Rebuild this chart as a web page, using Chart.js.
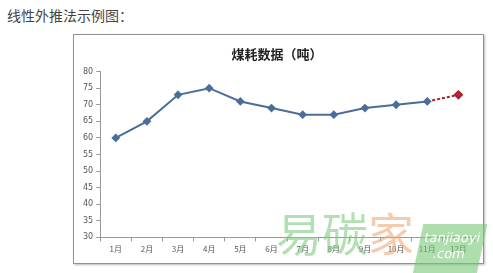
<!DOCTYPE html>
<html>
<head>
<meta charset="utf-8">
<script src="https://cdn.jsdelivr.net/npm/chart.js@4.4.1/dist/chart.umd.min.js"></script>
<style>
  body { margin: 0; background: #fff; width: 493px; height: 273px; overflow: hidden; position: relative; font-family: "Noto Sans CJK SC", sans-serif; }
  #caption { position: absolute; left: 7px; top: 5px; font-size: 14px; color: #444; }
  #box { position: absolute; left: 73px; top: 34px; width: 409px; height: 228px; border: 1px solid #8c9298; box-shadow: 1px 1px 2px #bbb; background: #fff; }
  #wm { position: absolute; left: 276px; top: 208px; font-size: 46px; line-height: 1; opacity: 0.6; }
  #wm .g { color: #7fcc7f; }
  #wm .o { color: #f0a878; }
  #wmbox { position: absolute; left: 418px; top: 224px; width: 64px; height: 50px; background: rgba(120, 200, 120, 0.6); transform: skewX(-12deg); color: #fff; font-family: "DejaVu Sans", sans-serif; font-size: 13px; line-height: 16px; text-align: center; padding-top: 6px; box-sizing: border-box; }
</style>
</head>
<body>
<div id="caption">线性外推法示例图：</div>
<div id="box"><canvas id="chart" width="409" height="228"></canvas></div>
<div id="wm"><span class="g">易碳</span><span class="o">家</span></div>
<div id="wmbox">tanjiaoyi<br>.com</div>
<script>
// 煤耗数据（吨）
const months = ['1月', '2月', '3月', '4月', '5月', '6月', '7月', '8月', '9月', '10月', '11月', '12月'];
const actualValues = [60, 65, 73, 75, 71, 69, 67, 67, 69, 70, 71, null];
const forecastValues = [null, null, null, null, null, null, null, null, null, null, 71, 73];
const yTicks = [30, 35, 40, 45, 50, 55, 60, 65, 70, 75, 80];

const ctx = document.getElementById('chart').getContext('2d');

new Chart(ctx, {
    type: 'line',
    data: {
        labels: months,
        datasets: [{
            label: '实际',
            data: actualValues,
            borderColor: '#4a6e9a',
            backgroundColor: '#4a6e9a',
            borderWidth: 2,
            pointStyle: 'rectRot',
            pointRadius: 3,
            tension: 0,
            order: 1
        }, {
            label: '外推',
            data: forecastValues,
            borderColor: '#a8202e',
            backgroundColor: '#c8283a',
            borderWidth: 2,
            borderDash: [3, 2],
            pointStyle: 'rectRot',
            pointRadius: forecastValues.map((v, i) => i === months.length - 1 ? 3.5 : 0),
            tension: 0,
            order: 2
        }]
    },
    options: {
        responsive: false,
        animation: false,
        layout: { padding: { left: 6, right: 9, top: 0, bottom: 6 } },
        plugins: {
            legend: { display: false },
            tooltip: { enabled: false },
            title: {
                display: true,
                text: '煤耗数据（吨）',
                color: '#222',
                font: { family: 'Noto Sans CJK SC', size: 13, weight: 'bold' },
                padding: { top: 11, bottom: 10 }
            }
        },
        scales: {
            x: {
                offset: true,
                grid: { drawOnChartArea: false, drawTicks: true, tickLength: 4, color: '#999', offset: true },
                border: { color: '#999' },
                ticks: { color: '#555', font: { family: 'Noto Sans CJK SC', size: 8 }, maxRotation: 0, autoSkip: false, padding: 3 }
            },
            y: {
                min: 30,
                max: 80,
                afterBuildTicks: axis => { axis.ticks = yTicks.map(v => ({ value: v })); },
                grid: { drawOnChartArea: false, drawTicks: true, tickLength: 4, color: '#999' },
                border: { color: '#999' },
                ticks: { color: '#555', font: { family: 'DejaVu Sans', size: 8 }, padding: 3 }
            }
        }
    }
});
</script>
</body>
</html>
